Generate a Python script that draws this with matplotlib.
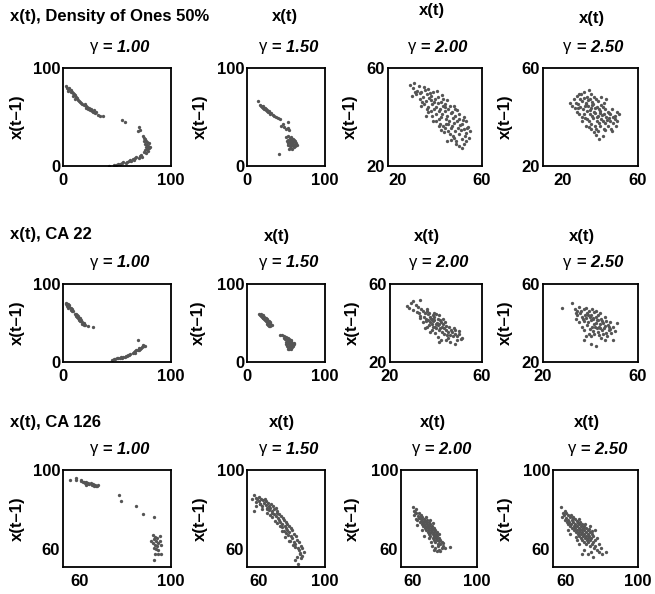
import numpy as np
import matplotlib
matplotlib.use("Agg")
import matplotlib.pyplot as plt
from matplotlib.transforms import ScaledTranslation

# --- Dados: pares (x(t), x(t-1)) ---
gammas = ["1.00", "1.50", "2.00", "2.50"]
row_titles = ["x(t), Density of Ones 50%", "x(t), CA 22", "x(t), CA 126"]

dens_g100 = [(3, 82), (4, 80), (5, 79), (6, 80), (5, 77), (7, 78), (8, 76), (7, 75), (9, 74), (10, 73),
             (9, 71), (11, 72), (12, 70), (11, 68), (13, 69), (14, 67), (15, 66), (16, 65), (17, 64), (18, 63),
             (19, 62), (20, 63), (21, 61), (22, 60), (21, 59), (23, 58), (24, 59), (25, 57), (26, 58), (27, 56),
             (28, 55), (29, 57), (30, 54), (31, 55), (32, 52), (34, 51), (37, 51),
             (55, 47), (57, 45), (70, 40), (69, 36), (71, 37),
             (74, 31), (75, 29), (76, 28), (75, 25), (77, 26), (78, 24), (76, 22), (78, 21), (79, 20), (77, 19),
             (80, 18), (78, 17), (76, 16), (79, 15), (75, 14), (77, 13), (80, 23), (81, 19),
             (43, 0.5), (47, 1.5), (49, 1), (51, 2), (53, 2.5), (55, 3), (56, 4), (58, 3.5), (59, 4.5), (61, 5),
             (62, 6), (63, 5.5), (65, 7), (66, 6.5), (67, 8), (68, 9), (70, 8), (71, 10), (72, 11), (73, 9)]

dens_g150 = [(14, 66), (17, 62), (18, 61), (19, 60), (20, 61), (21, 59), (22, 58), (21, 60), (23, 59), (24, 57),
             (25, 56), (24, 58), (26, 57), (27, 55), (28, 56), (29, 54), (30, 53), (31, 54), (33, 52), (35, 51),
             (37, 50), (40, 49), (42, 48),
             (44, 41), (48, 40), (52, 45), (50, 38), (54, 37), (46, 43), (53, 39),
             (50, 30), (52, 31), (55, 29), (57, 30), (58, 28), (53, 27), (56, 26), (60, 27), (62, 25), (51, 25),
             (54, 24), (57, 23), (59, 24), (61, 22), (63, 23), (52, 21), (55, 20), (58, 21), (60, 19), (56, 18),
             (54, 17), (58, 17), (62, 20), (64, 21), (57, 25), (59, 28), (53, 23), (56, 22), (59, 21), (55, 25),
             (41, 12)]

dens_g200 = [(29.3, 53.1), (30.6, 51.8), (31.2, 53.9), (32.4, 50.7), (33.1, 52.6), (31.8, 49.4), (34.2, 50.3),
             (35.3, 52.2), (33.6, 47.2), (34.9, 48.1), (36.4, 49.3), (37.2, 51.4), (36.1, 46.5), (37.5, 47.7),
             (38.3, 48.6), (38.7, 45.2), (39.1, 50.2), (39.4, 46.3), (40.2, 47.5), (40.6, 44.1), (41.3, 48.3),
             (41.1, 45.6), (41.8, 42.3), (42.4, 46.2), (42.2, 43.4), (42.7, 40.1), (43.3, 47.4), (43.6, 44.5),
             (43.1, 41.2), (44.4, 45.3), (44.2, 42.6), (44.8, 39.2), (45.5, 43.1), (45.1, 40.4), (45.7, 37.3),
             (46.2, 44.4), (46.6, 41.5), (46.1, 38.2), (47.3, 42.2), (47.6, 39.6), (47.2, 36.4), (48.5, 40.3),
             (48.1, 37.5), (48.6, 34.1), (49.3, 38.2), (49.7, 35.4), (50.2, 39.3), (50.6, 36.6), (50.1, 33.2),
             (51.4, 37.1), (51.1, 34.5), (51.6, 31.2), (52.3, 35.2), (52.7, 32.3), (52.2, 29.1), (53.4, 33.4),
             (53.1, 30.3), (54.2, 36.1), (54.6, 31.4), (39.7, 43.2), (40.3, 41.4), (38.2, 42.5), (37.1, 44.2),
             (36.6, 43.3), (35.2, 45.4), (34.4, 46.2), (41.6, 39.1), (42.1, 37.3), (43.5, 36.2), (44.3, 35.4),
             (45.4, 34.3), (46.3, 33.2), (47.5, 32.3), (48.2, 31.4), (49.1, 30.2), (50.4, 28.3), (46.7, 35.5),
             (44.6, 37.1), (48.3, 43.4), (50.1, 41.2), (52.4, 40.2), (53.3, 38.3), (34.1, 44.3), (31.4, 50.3),
             (30.2, 48.4), (39.2, 38.3), (36.3, 40.4), (55.1, 34.2), (51.3, 27.4), (45.2, 30.4), (37.8, 49.8),
             (40.9, 50.6), (42.9, 49.1), (35.8, 50.9), (33.5, 49.6), (38.9, 40.6), (41.5, 36.2), (44.9, 46.8),
             (47.9, 44.6), (49.5, 42.8), (51.9, 38.7), (53.8, 35.6), (46.9, 30.8), (43.8, 33.7), (40.5, 38.4),
             (36.9, 42.1), (48.8, 28.9), (42.6, 34.5), (38.4, 46.9), (44.1, 43.9)]

dens_g250 = [(31.2, 45.8), (32.3, 44.6), (33.1, 47.2), (33.4, 43.7), (34.3, 48.4), (34.6, 45.3), (34.2, 42.1),
             (35.4, 47.3), (35.7, 44.2), (35.1, 41.4), (36.2, 49.2), (36.5, 46.4), (36.8, 43.1), (36.3, 40.2),
             (37.4, 50.3), (37.1, 47.6), (37.6, 44.4), (37.3, 41.3), (38.5, 48.2), (38.2, 45.5), (38.7, 42.3),
             (38.4, 39.2), (39.3, 51.1), (39.6, 47.3), (39.1, 44.6), (39.8, 41.4), (39.4, 38.3), (40.2, 49.4),
             (40.5, 46.2), (40.1, 43.5), (40.7, 40.3), (40.3, 37.2), (41.4, 48.1), (41.1, 45.4), (41.6, 42.2),
             (41.2, 39.5), (41.8, 36.4), (42.3, 47.3), (42.6, 44.1), (42.1, 41.5), (42.7, 38.2), (42.4, 35.3),
             (43.2, 46.4), (43.5, 43.2), (43.1, 40.6), (43.7, 37.4), (43.3, 34.2), (44.4, 45.1), (44.1, 42.4),
             (44.6, 39.3), (44.2, 36.5), (45.3, 44.2), (45.6, 41.3), (45.1, 38.4), (45.7, 35.2), (45.4, 32.3),
             (46.2, 43.4), (46.5, 40.2), (46.1, 37.5), (47.3, 42.1), (47.6, 39.4), (47.2, 36.3), (48.4, 41.2),
             (48.1, 38.5), (48.6, 35.3), (49.3, 40.1), (49.5, 37.4), (50.2, 39.2), (50.6, 36.4), (51.3, 42.2),
             (51.1, 38.3), (52.2, 41.2), (38.1, 36.4), (36.3, 38.2), (44.3, 48.1), (46.4, 47.2), (49.2, 34.1),
             (43.4, 31.2), (40.4, 35.3), (35.2, 49.3), (37.9, 45.9), (39.9, 42.7), (41.9, 43.6), (43.9, 41.8),
             (42.9, 39.9), (40.8, 44.8), (38.8, 46.8), (44.8, 40.7), (46.8, 38.8), (47.8, 41.6), (45.8, 45.7),
             (39.5, 36.1), (41.3, 33.9), (37.5, 39.4), (34.8, 43.8), (48.9, 43.3), (50.4, 40.6), (42.2, 32.8),
             (46.3, 34.6), (33.8, 45.9)]

ca22_g100 = [(3, 76), (4, 75), (3, 74), (5, 74), (4, 72), (5, 71), (6, 73), (6, 70), (7, 69), (5, 69),
             (7, 67), (8, 68), (8, 66), (9, 65), (11, 62), (12, 61), (12, 59), (13, 60), (13, 58), (14, 57),
             (14, 59), (15, 56), (15, 54), (16, 55), (16, 53), (17, 52), (17, 54), (18, 51), (18, 49), (19, 50),
             (19, 48), (20, 47), (16, 57), (23, 46), (28, 45),
             (45, 3), (47, 3.5), (48, 4), (50, 4.5), (51, 5), (53, 5.5), (54, 6), (55, 5), (56, 7), (57, 6.5),
             (58, 7.5), (59, 8), (60, 8.5), (61, 9), (62, 10), (65, 12), (66, 13), (67, 14), (68, 15), (69, 16),
             (70, 15), (71, 17), (72, 18), (73, 19), (74, 20), (75, 21), (76, 20), (74, 22), (70, 18), (67, 11),
             (69.5, 28)]

ca22_g150 = [(16, 62), (17, 60), (18, 61), (18, 59), (19, 58), (20, 60), (20, 57), (21, 59), (21, 56), (22, 58),
             (22, 55), (23, 57), (23, 54), (24, 56), (24, 53), (25, 55), (25, 52), (26, 54), (26, 51), (27, 53),
             (27, 50), (28, 52), (28, 49), (29, 51), (29, 48), (30, 50), (28, 46), (31, 48), (30, 46), (32, 47),
             (27, 47), (25, 49),
             (42, 35), (45, 34), (47, 33), (48, 31), (50, 32), (49, 29), (51, 30), (52, 28), (50, 26), (53, 27),
             (54, 29), (55, 26), (52, 24), (54, 23), (56, 25), (57, 27), (58, 24), (55, 21), (57, 22), (59, 22),
             (60, 25), (51, 21), (53, 19), (56, 19), (58, 19), (54, 17), (52, 17), (59, 20), (56, 28), (53, 31),
             (60, 23), (50, 23), (57, 17)]

ca22_g200 = [(27.3, 48.6), (28.4, 47.7), (29.2, 50.2), (30.1, 46.8), (31.3, 49.1), (31.6, 45.7), (32.2, 48.3),
             (32.7, 45.1), (33.4, 47.4), (33.1, 43.8), (34.3, 46.2), (34.6, 43.3), (35.2, 45.3), (35.5, 42.2),
             (36.1, 47.2), (36.4, 44.4), (36.7, 41.3), (37.3, 43.2), (37.6, 40.4), (37.1, 45.1), (38.4, 42.3),
             (38.2, 39.3), (38.7, 44.1), (39.3, 41.4), (39.6, 38.2), (39.1, 43.3), (40.4, 40.2), (40.2, 37.4),
             (40.7, 42.1), (41.3, 39.3), (41.1, 36.2), (41.6, 41.4), (42.4, 38.2), (42.2, 40.3), (42.7, 35.4),
             (43.3, 37.2), (43.1, 39.4), (43.6, 34.3), (44.4, 36.3), (44.2, 38.4), (38.1, 36.2), (36.3, 38.1),
             (39.2, 45.2), (41.4, 44.1), (34.2, 40.3), (35.3, 37.2), (37.2, 35.3),
             (45.3, 35.2), (46.2, 34.1), (46.4, 36.3), (47.3, 33.2), (47.1, 35.4), (48.2, 34.3), (48.4, 36.2),
             (49.3, 33.3), (49.1, 31.2), (50.2, 34.4), (51.1, 32.1), (45.2, 32.3), (46.1, 30.2), (48.3, 29.1),
             (44.2, 31.1), (42.3, 31.3), (41.2, 30.1), (30.2, 51.1), (33.2, 51.8), (38.9, 40.8), (40.9, 38.9),
             (39.8, 39.7), (37.8, 41.9), (41.8, 37.6), (40.1, 44.6), (42.9, 42.1), (36.9, 39.2), (35.8, 40.9),
             (38.6, 37.7), (43.8, 40.6), (45.6, 38.1), (47.7, 37.4), (49.8, 35.8), (50.7, 31.9), (44.9, 33.6),
             (39.4, 34.8), (40.8, 32.9), (32.9, 42.6), (35.9, 46.2)]

ca22_g250 = [(27.8, 47.9), (32.1, 50.2), (33.3, 47.1), (34.2, 46.3), (34.5, 44.2), (35.3, 48.1), (35.6, 45.2),
             (36.2, 46.4), (36.5, 43.1), (37.3, 47.2), (37.6, 44.3), (37.1, 41.2), (38.4, 45.1), (38.2, 42.4),
             (38.7, 39.2), (39.3, 46.3), (39.6, 43.2), (39.1, 40.4), (40.4, 44.1), (40.2, 41.3), (40.7, 38.2),
             (41.3, 45.4), (41.1, 42.2), (41.6, 39.3), (41.2, 36.1), (42.4, 43.3), (42.2, 40.1), (42.7, 37.4),
             (43.3, 44.2), (43.1, 41.3), (43.6, 38.1), (43.2, 35.2), (44.4, 42.3), (44.2, 39.4), (44.7, 36.2),
             (45.3, 40.1), (45.6, 37.3), (45.1, 34.2), (46.4, 41.2), (46.2, 38.3), (46.7, 35.1), (47.3, 39.2),
             (47.6, 36.4), (48.3, 37.1), (48.1, 40.3), (49.4, 38.2), (50.2, 36.1), (51.2, 40.1), (37.2, 36.3),
             (39.3, 34.2), (40.2, 33.1), (37.1, 31.2), (42.4, 28.3), (44.3, 32.2), (46.2, 31.1), (49.3, 31.2),
             (35.2, 40.4), (36.3, 38.1), (42.2, 46.3), (44.1, 45.2), (38.3, 33.2), (38.9, 43.9), (40.9, 42.8),
             (42.9, 41.7), (39.8, 37.1), (41.9, 37.7), (44.8, 40.9), (43.9, 37.2), (36.8, 41.9), (45.9, 43.1),
             (47.8, 38.1), (43.5, 33.6), (41.4, 34.6), (48.8, 34.9), (34.1, 42.1), (33.9, 45.1), (38.1, 47.8),
             (40.6, 47.2), (46.9, 33.4), (40.3, 29.3)]

ca126_g100 = [(56, 95), (58.5, 96), (58.5, 95), (61, 94.5), (62, 94), (62.5, 93.5), (63, 94), (63.5, 93),
              (64, 93.5), (64.5, 92.8), (65, 93.2), (65.5, 92.5), (66, 92.8), (66.5, 92), (67, 92.5), (67.5, 91.8),
              (68, 92), (68.3, 92.6), (63, 92.5), (61.5, 93.8), (60.8, 94.8),
              (77.2, 87.4), (78.4, 84.5), (84.9, 81.8), (87.6, 77.8), (92.4, 76.4),
              (92, 67), (92.5, 65), (93, 66), (93.5, 64), (94, 65.5), (94.5, 63), (95, 64), (93, 62), (92, 63),
              (94, 61.5), (95.5, 62), (93.5, 60), (94.5, 59.5), (92.5, 60.5), (95, 66.5), (93, 57.7), (94.3, 57.6),
              (95.7, 57.6), (92.7, 54.5), (91.5, 64)]

ca126_g150 = [(55.8, 85.2), (57.1, 87.3), (58.2, 86.1), (58.4, 83.8), (59.1, 85.6), (60.2, 84.1), (60.4, 86.3),
              (61.3, 85.2), (61.1, 82.7), (62.4, 84.6), (62.2, 81.8), (63.3, 83.4), (63.6, 85.1), (64.2, 82.3),
              (64.5, 84.2), (65.3, 80.8), (65.6, 83.1), (66.2, 81.9), (66.4, 79.7), (67.3, 82.8), (67.1, 80.6),
              (68.2, 79.3), (68.6, 81.7), (69.3, 80.1), (69.1, 77.6), (70.4, 80.8), (70.2, 76.7), (71.3, 79.2),
              (71.6, 75.8), (72.2, 77.9), (72.4, 74.6), (73.3, 76.8), (73.1, 73.7), (74.4, 75.6), (74.2, 72.8),
              (75.3, 74.7), (75.6, 71.6), (76.2, 73.8), (76.4, 70.7), (77.3, 72.6), (77.1, 69.6), (78.4, 71.8),
              (78.2, 68.7), (79.3, 70.6), (79.6, 66.8), (80.2, 69.7), (80.4, 65.6), (81.3, 67.8), (81.1, 63.7),
              (82.4, 66.6), (82.2, 62.8), (83.3, 64.7), (83.6, 60.6), (84.2, 63.8), (84.4, 59.7), (85.3, 61.6),
              (85.1, 57.8), (86.4, 60.7), (86.2, 56.6), (85.4, 55.7), (83.2, 56.2), (82.1, 54.3), (87.2, 58.8),
              (83.9, 52.4), (78.3, 64.1), (76.1, 66.2), (74.3, 69.1), (71.2, 73.1), (68.3, 76.2), (65.2, 78.1),
              (62.1, 80.2), (58.3, 81.7), (57.2, 79.3), (60.8, 82.9), (64.8, 80.4), (67.8, 78.1), (70.9, 78.4),
              (73.8, 71.2), (76.8, 68.1), (79.1, 64.2), (81.8, 60.9), (80.8, 62.2), (84.8, 58.3), (77.6, 67.3),
              (75.1, 69.4), (72.8, 71.9), (69.7, 74.3), (66.9, 77.4)]

ca126_g200 = [(60.2, 81.3), (61.3, 79.2), (61.1, 77.1), (62.4, 80.4), (62.2, 78.3), (63.3, 76.8), (63.1, 74.7),
              (64.4, 78.2), (64.2, 75.6), (64.6, 73.8), (65.3, 77.3), (65.1, 75.2), (65.7, 72.7), (66.2, 76.4),
              (66.4, 73.6), (66.6, 71.8), (67.3, 75.3), (67.1, 72.8), (67.7, 70.6), (68.2, 76.1), (68.4, 73.7),
              (68.1, 71.6), (68.6, 69.8), (69.3, 74.8), (69.1, 72.7), (69.7, 70.6), (69.4, 68.7), (70.2, 73.6),
              (70.4, 71.8), (70.6, 69.7), (70.3, 67.8), (71.2, 72.8), (71.4, 70.6), (71.6, 68.7), (71.1, 66.8),
              (72.3, 71.7), (72.1, 69.6), (72.5, 67.8), (72.7, 65.7), (73.2, 70.8), (73.4, 68.7), (73.1, 66.6),
              (73.6, 64.8), (74.2, 69.7), (74.4, 67.6), (74.6, 65.7), (74.1, 63.8), (75.3, 68.6), (75.1, 66.8),
              (75.5, 64.6), (75.7, 62.7), (76.2, 67.7), (76.4, 65.6), (76.1, 61.8), (77.2, 64.7), (77.4, 62.6),
              (78.3, 63.6), (78.1, 60.8), (79.2, 61.7), (80.2, 60.6), (73.1, 59.6), (72.2, 61.7), (71.3, 63.6),
              (70.1, 65.8), (74.3, 60.8), (76.3, 59.6), (67.2, 66.8), (66.1, 69.7), (63.2, 72.3), (62.1, 75.2),
              (75.2, 59.2), (77.1, 59.3), (83.1, 61.2), (67.9, 74.4), (69.9, 72.1), (71.9, 70.2), (73.8, 67.2),
              (70.8, 74.9), (72.9, 73.1), (65.9, 74.3), (68.8, 71.2), (70.9, 68.3), (74.9, 66.2), (76.8, 63.9),
              (78.9, 63.1), (64.9, 76.1), (61.8, 78.6)]

ca126_g250 = [(57.2, 81.3), (58.3, 78.2), (58.1, 76.3), (59.4, 79.1), (59.2, 77.3), (59.6, 74.8), (60.3, 78.4),
              (60.1, 75.7), (60.6, 73.8), (61.2, 77.3), (61.4, 74.6), (61.1, 72.7), (62.3, 76.2), (62.1, 73.7),
              (62.6, 71.8), (63.2, 77.1), (63.4, 74.7), (63.1, 72.8), (63.6, 70.7), (64.3, 76.2), (64.1, 73.6),
              (64.5, 71.7), (64.7, 69.8), (65.2, 75.3), (65.4, 72.7), (65.1, 70.6), (65.6, 68.8), (66.3, 74.2),
              (66.1, 71.7), (66.5, 69.6), (66.7, 67.7), (67.2, 75.1), (67.4, 72.6), (67.1, 70.8), (67.6, 68.7),
              (67.3, 66.8), (68.2, 73.7), (68.4, 71.6), (68.1, 69.7), (68.6, 67.8), (68.3, 65.7), (69.2, 72.8),
              (69.4, 70.6), (69.1, 68.8), (69.6, 66.7), (69.3, 64.8), (70.2, 71.7), (70.4, 69.8), (70.1, 67.6),
              (70.6, 65.7), (70.3, 63.8), (71.2, 70.6), (71.4, 68.7), (71.1, 66.8), (71.6, 64.6), (71.3, 62.7),
              (72.2, 69.8), (72.4, 67.6), (72.1, 65.7), (72.6, 63.8), (73.3, 68.7), (73.1, 66.6), (73.6, 64.8),
              (73.2, 61.7), (74.3, 67.8), (74.1, 65.6), (74.6, 62.8), (75.3, 66.6), (75.1, 63.7), (75.6, 60.8),
              (76.2, 64.7), (76.4, 61.8), (77.3, 65.6), (77.1, 59.7), (78.2, 62.8), (78.4, 58.6), (79.3, 60.7),
              (80.2, 57.8), (82.4, 58.8), (70.2, 59.7), (69.3, 57.8), (72.1, 57.6), (74.2, 58.7), (67.3, 62.8),
              (66.1, 64.7), (62.3, 67.8), (61.1, 69.7), (76.3, 69.8), (73.2, 71.7), (75.3, 56.3), (63.9, 75.9),
              (66.9, 73.4), (68.9, 70.3), (70.8, 72.6), (72.9, 70.1), (65.8, 66.3), (74.8, 69.2)]

rows = [[dens_g100, dens_g150, dens_g200, dens_g250],
        [ca22_g100, ca22_g150, ca22_g200, ca22_g250],
        [ca126_g100, ca126_g150, ca126_g200, ca126_g250]]

# limites e ticks de cada painel (linha, coluna)
xlimits = [[(0, 100), (0, 100), (20, 60), (20, 60)],
           [(0, 100), (0, 100), (20, 60), (20, 60)],
           [(53, 100), (53, 100), (53, 100), (53, 100)]]
ylimits = [[(0, 100), (0, 100), (20, 60), (20, 60)],
           [(0, 100), (0, 100), (20, 60), (20, 60)],
           [(51, 100), (51, 100), (51, 100), (51, 100)]]
ticks = [[[0, 100], [0, 100], [20, 60], [20, 60]],
         [[0, 100], [0, 100], [20, 60], [20, 60]],
         [[60, 100], [60, 100], [60, 100], [60, 100]]]

# --- Layout em pixels (largura 655 x altura 594) ---
W, H = 655, 594
row_tops = [68, 284, 470]
row_bots = [166, 362, 567]
col_edges = [[(63, 171), (247, 325), (388, 482), (543, 638)],
             [(63, 171), (247, 325), (390, 482), (543, 638)],
             [(63, 171), (247, 325), (401, 477), (553, 638)]]
xt_pos = [[17, 285, 432, 592], [235, 277, 427, 582], [423, 282, 433, 587]]
xt_y = [[17, 17, 10, 18], [235, 237, 237, 237], [423, 423, 423, 423]]
ylab_x = [[17, 200, 350, 505], [17, 198, 352, 505], [17, 200, 352, 505]]
# deslocamento (px) do primeiro rótulo do eixo x na linha de cima
first_xlabel_shift = [[0, 0, 10, 20], [0, 0, 0, 0], [0, 0, 0, 0]]

plt.rcParams['font.family'] = ['Liberation Sans', 'DejaVu Sans']
plt.rcParams['font.weight'] = 'bold'
FS = 12

fig = plt.figure(figsize=(W / 100, H / 100), dpi=100)


def fx(px):
    return px / W


def fy(py):
    return 1 - py / H


for r in range(3):
    top, bot = row_tops[r], row_bots[r]
    for c in range(4):
        left, right = col_edges[r][c]
        ax = fig.add_axes([fx(left), fy(bot), (right - left) / W, (bot - top) / H])
        pts = np.array(rows[r][c], dtype=float)
        ax.plot(pts[:, 0], pts[:, 1], 'o', ms=2.4, mew=0, color='#555555')
        ax.set_xlim(*xlimits[r][c])
        ax.set_ylim(*ylimits[r][c])
        ax.set_xticks(ticks[r][c])
        ax.set_yticks(ticks[r][c])
        ax.set_xticklabels([str(t) for t in ticks[r][c]], fontsize=FS, fontweight='bold')
        ax.set_yticklabels([str(t) for t in ticks[r][c]], fontsize=FS, fontweight='bold')
        ax.tick_params(length=0, pad=2)
        ax.tick_params(axis='x', pad=5)
        for s in ax.spines.values():
            s.set_linewidth(1.3)
        dx = first_xlabel_shift[r][c]
        if dx:
            lab = ax.get_xticklabels()[0]
            lab.set_transform(lab.get_transform() + ScaledTranslation(dx / 100, 0, fig.dpi_scale_trans))

        cx = (left + right) / 2
        # gamma acima do painel: letra grega normal, resto em negrito itálico
        gy = fy(top - 21)
        fig.text(fx(cx - 19), gy, "\u03b3", ha='right', va='center', fontsize=FS,
                 fontweight='normal')
        fig.text(fx(cx - 19), gy, " = " + gammas[c], ha='left', va='center', fontsize=FS,
                 fontweight='bold', style='italic')

        # rótulo x(t) acima
        if c == 0:
            fig.text(fx(10), fy(xt_y[r][c]), row_titles[r], ha='left', va='center', fontsize=FS)
        else:
            fig.text(fx(xt_pos[r][c]), fy(xt_y[r][c]), "x(t)", ha='center', va='center', fontsize=FS)

        fig.text(fx(ylab_x[r][c]), fy((top + bot) / 2), "x(t\u20131)", rotation=90,
                 ha='center', va='center', fontsize=FS)

fig.savefig("out.png", dpi=100)
